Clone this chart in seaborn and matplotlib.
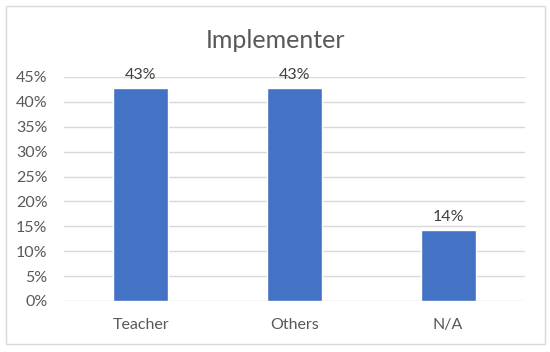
import pandas as pd
import seaborn as sns
import matplotlib.pyplot as plt
from matplotlib.patches import Rectangle
from matplotlib.ticker import PercentFormatter

categorias = ["Teacher", "Others", "N/A"]
valores = [3 / 7, 3 / 7, 1 / 7]
rotulos = ["43%", "43%", "14%"]

df = pd.DataFrame({"Categoria": categorias, "Valor": valores})

sns.set_theme(style="white")
plt.rcParams["font.family"] = ["Lato", "DejaVu Sans"]

fig = plt.figure(figsize=(5.5, 3.52), dpi=100)
ax = fig.add_axes([64 / 550, 1 - 301 / 352, 461 / 550, 224 / 352])

sns.barplot(data=df, x="Categoria", y="Valor", color="#4472C4", width=0.36,
            saturation=1, ax=ax, zorder=3)

ax.set_ylim(0, 0.45)
ax.set_yticks([i * 0.05 for i in range(10)])
ax.yaxis.set_major_formatter(PercentFormatter(1.0, decimals=0))
ax.grid(axis="y", color="#D9D9D9", linewidth=1, zorder=0)
ax.set_axisbelow(True)
for s in ax.spines.values():
    s.set_visible(False)
ax.tick_params(axis="both", length=0, labelsize=11.5, colors="#595959")
ax.tick_params(axis="x", pad=12)
ax.tick_params(axis="y", pad=12)
ax.set_xlabel("")
ax.set_ylabel("")

for i, (v, r) in enumerate(zip(valores, rotulos)):
    ax.annotate(r, (i, v), xytext=(0, 4), textcoords="offset points",
                ha="center", va="bottom", fontsize=11.5, color="#404040")

fig.text(0.5, 1 - 40 / 352, "Implementer", ha="center", va="center",
         fontsize=18, color="#595959")

fig.patches.append(Rectangle((6 / 550, 1 - 344 / 352), 539 / 550, 338 / 352,
                             transform=fig.transFigure, fill=False,
                             edgecolor="#D9D9D9", linewidth=1))

plt.savefig("out.png", dpi=100)
